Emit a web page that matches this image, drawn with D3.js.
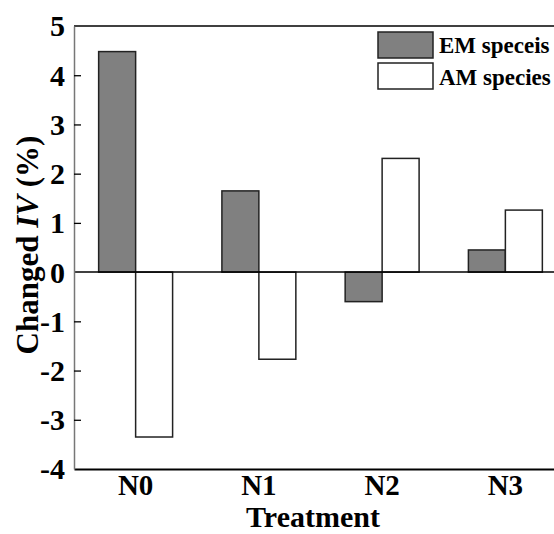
<!DOCTYPE html>
<html>
<head>
<meta charset="utf-8">
<script src="https://cdn.jsdelivr.net/npm/d3@7/dist/d3.min.js"></script>
<style>
  html, body { margin: 0; padding: 0; background: #ffffff; }
  svg { display: block; }
  text { font-family: "Liberation Serif", "Times New Roman", serif; font-weight: bold; fill: #000; }
</style>
</head>
<body>
<svg id="chart" width="554" height="534"></svg>
<script>
const categories = ["N0", "N1", "N2", "N3"];
const seriesNames = ["EM speceis", "AM species"];
const emValues = [4.48, 1.65, -0.6, 0.45];
const amValues = [-3.35, -1.77, 2.31, 1.26];
const yTicks = [-4, -3, -2, -1, 0, 1, 2, 3, 4, 5];

const svg = d3.select("#chart");
const pLeft = 74, pRight = 567, pTop = 26, pBottom = 469;

const x = d3.scaleBand().domain(categories).range([pLeft, pRight]).paddingInner(0.4).paddingOuter(0.2);
const xs = d3.scaleBand().domain(seriesNames).range([0, x.bandwidth()]).padding(0);
const y = d3.scaleLinear().domain([-4, 5]).range([pBottom, pTop]);

const fills = { "EM speceis": "#808080", "AM species": "#ffffff" };

const rows = categories.map((c, i) => ({ cat: c, values: [
  { s: seriesNames[0], v: emValues[i] },
  { s: seriesNames[1], v: amValues[i] }
]}));

// bars
const g = svg.append("g");
rows.forEach(r => {
  g.selectAll(null).data(r.values).enter().append("rect")
    .attr("x", d => x(r.cat) + xs(d.s))
    .attr("width", xs.bandwidth())
    .attr("y", d => y(Math.max(0, d.v)))
    .attr("height", d => Math.abs(y(d.v) - y(0)))
    .attr("fill", d => fills[d.s])
    .attr("stroke", "#222")
    .attr("stroke-width", 1.5);
});

// zero line
svg.append("line").attr("x1", pLeft).attr("x2", pRight).attr("y1", y(0)).attr("y2", y(0))
  .attr("stroke", "#000").attr("stroke-width", 1.5);

// top frame line
svg.append("line").attr("x1", pLeft).attr("x2", pRight).attr("y1", pTop).attr("y2", pTop)
  .attr("stroke", "#000").attr("stroke-width", 1.5);

// bottom axis
const xAxis = d3.axisBottom(x).tickSize(0).tickPadding(7);
const gx = svg.append("g").attr("transform", `translate(0,${pBottom})`).call(xAxis);
gx.select(".domain").attr("stroke", "#000").attr("stroke-width", 2.2);
gx.selectAll("text").style("font-size", "29px").style("font-family", '"Liberation Serif", serif').style("font-weight", "bold").attr("dy", "0.66em");

// left axis
const yAxis = d3.axisLeft(y).tickValues(yTicks).tickSizeInner(-7).tickSizeOuter(0).tickPadding(9).tickFormat(d => String(d));
const gy = svg.append("g").attr("transform", `translate(${pLeft},0)`).call(yAxis);
gy.select(".domain").attr("stroke", "#777").attr("stroke-width", 1.5);
gy.selectAll(".tick line").attr("stroke", "#000").attr("stroke-width", 1.3);
gy.selectAll(".tick").filter(d => d === 5 || d === -4 || d === 0).select("line").remove();
gy.selectAll("text").style("font-size", "30px").style("font-family", '"Liberation Serif", serif').style("font-weight", "bold").attr("dy", "0.33em");

// axis titles
svg.append("text").attr("x", 313).attr("y", 527).attr("text-anchor", "middle")
  .style("font-size", "30px").text("Treatment");

const yt = svg.append("text").attr("transform", "translate(38,245) rotate(-90)")
  .attr("text-anchor", "middle").style("font-size", "31px");
yt.append("tspan").text("Changed ");
yt.append("tspan").style("font-style", "italic").text("IV");
yt.append("tspan").text(" (%)");

// legend
const lg = svg.append("g");
seriesNames.forEach((s, i) => {
  lg.append("rect").attr("x", 378).attr("y", 32 + i * 31).attr("width", 55).attr("height", 26)
    .attr("fill", fills[s]).attr("stroke", "#222").attr("stroke-width", 1.5);
  lg.append("text").attr("x", 439).attr("y", 53 + i * 32).style("font-size", "23px").text(s);
});
</script>
</body>
</html>
